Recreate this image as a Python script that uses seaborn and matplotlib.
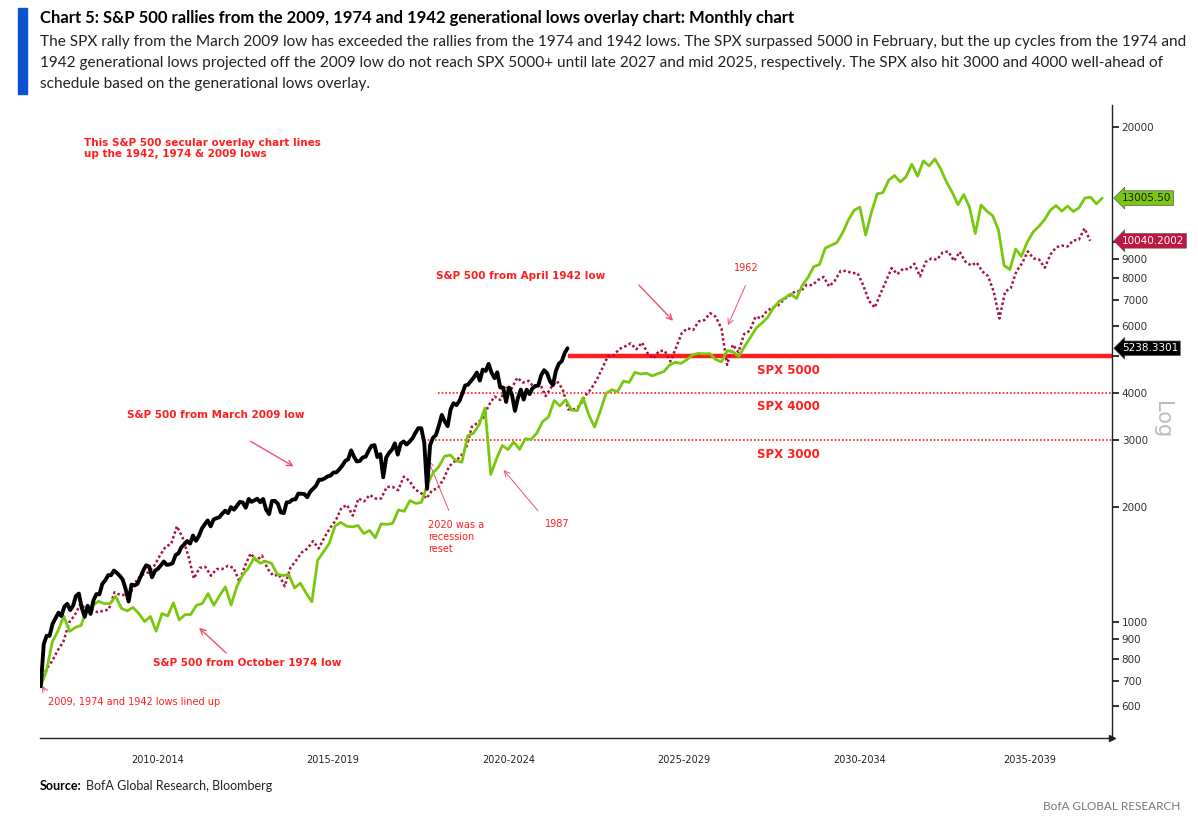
import pandas as pd
import matplotlib
matplotlib.use('Agg')
import matplotlib.pyplot as plt
import matplotlib.dates as mdates
import matplotlib.ticker as mticker
from matplotlib.patches import Rectangle
import seaborn as sns

# --- DATA (levels) ---
# S&P 500 from the March 2009 low, monthly
spx_2009 = [677, 873, 919, 919, 987, 1021, 1057, 1036, 1096, 1115,
            1074, 1104, 1169, 1187, 1089, 1031, 1102, 1049, 1141, 1183, 1181, 1258,
            1286, 1327, 1326, 1364, 1345, 1321, 1292, 1219, 1131, 1253, 1247, 1258,
            1312, 1366, 1408, 1398, 1310, 1362, 1379, 1407, 1441, 1412, 1416, 1426,
            1498, 1515, 1569, 1598, 1631, 1606, 1686, 1633, 1682, 1757, 1806, 1848,
            1783, 1859, 1872, 1884, 1924, 1960, 1931, 2003, 1972, 2018, 2068, 2059,
            1995, 2105, 2068, 2086, 2107, 2063, 2104, 1972, 1920, 2079, 2080, 2044,
            1940, 1932, 2060, 2065, 2097, 2099, 2174, 2171, 2168, 2126, 2199, 2239,
            2279, 2364, 2363, 2384, 2412, 2423, 2470, 2472, 2519, 2575, 2648, 2674,
            2824, 2714, 2641, 2648, 2705, 2718, 2816, 2902, 2914, 2712, 2760, 2400,
            2704, 2784, 2834, 2946, 2752, 2942, 2980, 2926, 2977, 3038, 3141, 3231,
            3226, 2954, 2237, 2912, 3044, 3100, 3271, 3500, 3363, 3270, 3622, 3756,
            3714, 3811, 3973, 4181, 4204, 4298, 4395, 4523, 4308, 4605, 4567, 4766,
            4516, 4374, 4530, 4132, 4132, 3785, 4130, 3955, 3586, 3872, 4080, 3840,
            4077, 3970, 4109, 4169, 4180, 4450, 4589, 4508, 4288, 4194, 4568, 4770,
            4846, 5096, 5238.3301]

# S&P 500 from the October 1974 low, projected off the 2009 low (bi-monthly)
spx_1974 = [677, 745,
            886, 948, 1034, 944, 967, 979,
            1083, 1103, 1133, 1117, 1117, 1167,
            1084, 1069, 1091, 1051, 1002, 1033,
            945, 1051, 1037, 1122, 1012, 1044,
            1046, 1106, 1117, 1187, 1106, 1172,
            1235, 1108, 1240, 1329, 1385, 1475,
            1426, 1442, 1425, 1334, 1324, 1331,
            1228, 1264, 1190, 1129, 1452, 1527,
            1608, 1785, 1826, 1785, 1777, 1791,
            1706, 1739, 1664, 1810, 1804, 1816,
            1968, 1953, 2084, 2048, 2061, 2295,
            2464, 2558, 2724, 2746, 2650, 2630,
            3086, 3132, 3301, 3650, 2440, 2683,
            2908, 2838, 2970, 2840, 3030, 3016,
            3137, 3362, 3453, 3817, 3696, 3838,
            3604, 3592, 3888, 3503, 3250, 3586,
            3987, 4076, 4031, 4294, 4262, 4530,
            4482, 4507, 4432, 4496, 4547, 4732,
            4815, 4780, 4892, 5035, 5080, 5066,
            5073, 4897, 4825, 5164, 5130, 4988,
            5293, 5590, 5916, 6102, 6315, 6689,
            6955, 7105, 7283, 7081, 7660, 8044,
            8588, 8702, 9612, 9768, 9933, 10540,
            11390, 12080, 12310, 10400, 11930, 13350,
            13450, 14500, 14910, 14340, 14800, 15960,
            14840, 16290, 15800, 16480, 15520, 14340,
            13470, 12490, 13290, 12310, 10490, 12470,
            12020, 11700, 10750, 8650, 8440, 9555,
            9135, 9958, 10580, 10950, 11410, 12080,
            12430, 12020, 12390, 11990, 12270, 13010,
            13070, 12560, 13005.50]

# S&P 500 from the April 1942 low, projected off the 2009 low (bi-monthly)
spx_1942 = [677, 752, 788, 842, 888,
            996, 1042, 1114, 1078, 1078, 1060,
            1069, 1078, 1196, 1177, 1177, 1205,
            1295, 1331, 1350, 1404, 1494, 1576,
            1603, 1784, 1666, 1494, 1300, 1386,
            1395, 1322, 1377, 1377, 1404, 1386,
            1277, 1404, 1513, 1449, 1494, 1377,
            1322, 1331, 1240, 1386, 1449, 1522,
            1558, 1630, 1560, 1666, 1766, 1848,
            1993, 2029, 1902, 2110, 2074, 2156,
            2110, 2110, 2264, 2264, 2219, 2409,
            2346, 2228, 2183, 2110, 2219, 2246,
            2373, 2563, 2645, 2717, 2871, 3259,
            3333, 3442, 3713, 3913, 3831, 4121,
            4103, 4384, 4257, 4302, 4130, 4230,
            3922, 4139, 4293, 4094, 3620, 3623,
            3695, 3931, 4094, 4329, 4646, 5000,
            5018, 5217, 5298, 5398, 5208, 5425,
            5081, 4927, 5153, 5162, 4837, 5262,
            5742, 5914, 5851, 6168, 6213, 6480,
            6336, 5905, 4739, 5353, 5117, 5715,
            5824, 6340, 6286, 6566, 6702, 6793,
            7046, 7197, 7400, 7409, 7689, 7676,
            7916, 8070, 7617, 7898, 8369, 8369,
            8260, 8251, 7671, 6983, 6700, 7273,
            7861, 8514, 8206, 8477, 8450, 8740,
            8097, 8840, 9021, 8957, 9365, 9410,
            8885, 9392, 8849, 8649, 8803, 8341,
            8106, 7381, 6276, 7381, 7544, 8350,
            8767, 9419, 9030, 8966, 8532, 9247,
            9655, 9755, 9700, 10060, 10110, 10830,
            10040.2002]

spx_levels = [5000, 4000, 3000]
level_labels = ['SPX 5000', 'SPX 4000', 'SPX 3000']
period_labels = ['2010-2014', '2015-2019', '2020-2024', '2025-2029', '2030-2034', '2035-2039']
ytick_vals = [600, 700, 800, 900, 1000, 2000, 3000, 4000, 5000, 6000, 7000, 8000, 9000, 10000, 20000]

# x positions: all three paths start at the March 2009 low
d2009 = pd.date_range('2009-03-09', periods=len(spx_2009), freq=pd.DateOffset(months=1))
d1974 = pd.date_range('2009-03-09', periods=len(spx_1974), freq='60D')
d1942 = pd.date_range('2009-03-09', periods=len(spx_1942), freq='59D')

df09 = pd.DataFrame({'date': d2009, 'spx': spx_2009})
df74 = pd.DataFrame({'date': d1974, 'spx': spx_1974})
df42 = pd.DataFrame({'date': d1942, 'spx': spx_1942})

# --- STYLE ---
sns.set_style('white')
plt.rcParams['font.family'] = ['DejaVu Sans']
HEAD = ['Lato', 'DejaVu Sans']

W, H = 1198, 824
fig = plt.figure(figsize=(W / 100, H / 100), dpi=100)
ax = fig.add_axes([40 / W, 1 - 738 / H, (1112 - 40) / W, (738 - 105) / H])

RED = '#ff1e1e'
ARROW = '#f2506a'
GREEN = '#79c80e'
CRIMSON = '#a8123c'

sns.lineplot(data=df42, x='date', y='spx', ax=ax, color=CRIMSON, lw=1.8,
             linestyle=(0, (1, 1)), zorder=3)
sns.lineplot(data=df74, x='date', y='spx', ax=ax, color=GREEN, lw=2.0, zorder=4)
sns.lineplot(data=df09, x='date', y='spx', ax=ax, color='black', lw=2.8, zorder=5)

ax.set_yscale('log')
ax.set_ylim(495, 22850)
xmin, xmax = pd.Timestamp('2009-03-01'), pd.Timestamp('2039-09-10')
ax.set_xlim(xmin, xmax)

# SPX 5000 / 4000 / 3000 reference lines
starts = [d2009[-1], pd.Timestamp('2020-07-01'), pd.Timestamp('2020-02-01')]
widths = [3.2, 1.2, 1.2]
styles = ['-', (0, (1, 1.2)), (0, (1, 1.2))]
for lvl, lab, x0, lw, ls in zip(spx_levels, level_labels, starts, widths, styles):
    ax.hlines(lvl, x0, xmax, color=RED, lw=lw, linestyle=ls, zorder=2)
    ax.text(pd.Timestamp('2029-08-01'), lvl * 0.955, lab, color=RED, fontsize=8.5,
            fontweight='bold', ha='left', va='top')

# axes cosmetics
for s in ['top', 'left']:
    ax.spines[s].set_visible(False)
for s in ['right', 'bottom']:
    ax.spines[s].set_color('#222222')
    ax.spines[s].set_linewidth(1)
ax.set_xlabel('')
ax.set_ylabel('')

ax.yaxis.tick_right()
ax.yaxis.set_major_locator(mticker.FixedLocator(ytick_vals))
ax.yaxis.set_minor_locator(mticker.NullLocator())
ax.set_yticklabels(['' if v in (5000, 10000) else str(v) for v in ytick_vals])
ax.tick_params(axis='y', which='major', length=5, width=1.3, direction='out',
               color='#222222', labelsize=7.5, labelcolor='#333333', pad=2)

ax.xaxis.set_major_locator(mdates.YearLocator(5))
ax.xaxis.set_minor_locator(mdates.YearLocator(1))
ax.xaxis.set_major_formatter(mticker.NullFormatter())
ax.tick_params(axis='x', which='major', length=22, width=0.8, color='#888888', direction='out')
ax.tick_params(axis='x', which='minor', length=3, width=0.8, color='#555555', direction='out')
ax.plot(1, 0, '>', color='#222222', ms=4, transform=ax.transAxes, clip_on=False)

bounds = [pd.Timestamp(f'{y}-01-01') for y in range(2010, 2040, 5)] + [xmax]
for lab, a, b in zip(period_labels, bounds[:-1], bounds[1:]):
    ax.text(a + (b - a) / 2, -0.035, lab, transform=ax.get_xaxis_transform(),
            ha='center', va='center', fontsize=7, color='#222222')

# last-value tags on the right axis
tags = [(spx_1974[-1], '13005.50', GREEN, '#1a1a1a'),
        (spx_1942[-1], '10040.2002', '#c01640', 'white'),
        (spx_2009[-1], '5238.3301', 'black', 'white')]
for val, txt, fc, tc in tags:
    ax.annotate(txt, xy=(1.0, val), xycoords=('axes fraction', 'data'),
                xytext=(7, 0), textcoords='offset points', ha='left', va='center',
                fontsize=7.5, color=tc, zorder=10, annotation_clip=False,
                bbox=dict(boxstyle='larrow,pad=0.22', fc=fc, ec='#555555', lw=0.5))

fig.text(1162 / W, 1 - 420 / H, 'Log', rotation=270, fontsize=15, color='#bbbbbb',
         ha='center', va='center')

# --- ANNOTATIONS ---
T = pd.Timestamp
bold = dict(color=RED, fontsize=7.5, fontweight='bold', va='center', ha='left')
ax.text(T('2010-06-01'), 18700, 'This S&P 500 secular overlay chart lines\nup the 1942, 1974 & 2009 lows',
        color=RED, fontsize=7.5, fontweight='bold', va='top', ha='left', linespacing=1.1)
ax.text(T('2020-06-15'), 8110, 'S&P 500 from April 1942 low', **bold)
ax.text(T('2011-08-20'), 3500, 'S&P 500 from March 2009 low', **bold)
ax.text(T('2012-05-15'), 780, 'S&P 500 from October 1974 low', **bold)

arr = dict(arrowstyle='->', color=ARROW, lw=1.0)
ax.annotate('', xy=(T('2027-04-01'), 6110), xytext=(T('2026-03-01'), 7780), arrowprops=arr)
ax.annotate('', xy=(T('2016-06-15'), 2540), xytext=(T('2015-02-01'), 3010), arrowprops=arr)
ax.annotate('', xy=(T('2013-08-20'), 976), xytext=(T('2014-07-10'), 819), arrowprops=arr)

thin = dict(arrowstyle='->', color=ARROW, lw=0.7)
ax.text(T('2029-04-15'), 8520, '1962', color=RED, fontsize=7, ha='center', va='center')
ax.annotate('', xy=(T('2028-09-20'), 5930), xytext=(T('2029-04-15'), 7780), arrowprops=thin)
ax.text(T('2020-03-15'), 1853, '2020 was a\nrecession\nreset', color=RED, fontsize=7,
        ha='left', va='top', linespacing=1.25)
ax.annotate('', xy=(T('2020-03-10'), 2699), xytext=(T('2020-11-01'), 1933), arrowprops=thin)
ax.text(T('2023-11-20'), 1810, '1987', color=RED, fontsize=7, ha='center', va='center')
ax.annotate('', xy=(T('2022-04-25'), 2540), xytext=(T('2023-05-25'), 1933), arrowprops=thin)
ax.text(T('2009-05-25'), 616, '2009, 1974 and 1942 lows lined up', color=RED, fontsize=7,
        ha='left', va='center')
ax.annotate('', xy=(T('2009-03-09'), 690), xytext=(T('2009-05-01'), 650), arrowprops=thin)

# --- TITLE BLOCK ---
renderer = fig.canvas.get_renderer()


def fit_width(txt, target_px):
    # scale the font so the text spans the same width as in the original
    w = txt.get_window_extent(renderer).width
    txt.set_fontsize(txt.get_fontsize() * target_px / w)


fig.patches.append(Rectangle((18 / W, 1 - 94 / H), 9 / W, 86 / H, transform=fig.transFigure,
                             color='#0b52d1'))
title = fig.text(40 / W, 1 - 18 / H,
                 'Chart 5: S&P 500 rallies from the 2009, 1974 and 1942 generational lows overlay chart: Monthly chart',
                 fontsize=12, fontweight='bold', family=HEAD, va='center', ha='left', color='black')
fit_width(title, 755)

sub = ['The SPX rally from the March 2009 low has exceeded the rallies from the 1974 and 1942 lows. The SPX surpassed 5000 in February, but the up cycles from the 1974 and',
       '1942 generational lows projected off the 2009 low do not reach SPX 5000+ until late 2027 and mid 2025, respectively. The SPX also hit 3000 and 4000 well-ahead of',
       'schedule based on the generational lows overlay.']
sub_txt = [fig.text(40 / W, 1 - (42 + 21 * i) / H, line, fontsize=12, family=HEAD,
                    va='center', ha='left', color='#222222') for i, line in enumerate(sub)]
fit_width(sub_txt[0], 1145)
for t in sub_txt[1:]:
    t.set_fontsize(sub_txt[0].get_fontsize())

src_b = fig.text(40 / W, 1 - 786 / H, 'Source:', fontsize=9, family=HEAD, fontweight='bold',
                 va='center', ha='left', color='black')
src_r = fig.text(80 / W, 1 - 786 / H, 'BofA Global Research, Bloomberg', fontsize=9,
                 family=HEAD, va='center', ha='left', color='#222222')
src_r.set_x((40 + src_b.get_window_extent(renderer).width + 4) / W)

fig.text(1180 / W, 1 - 806 / H, 'BofA GLOBAL RESEARCH', fontsize=8.5, family=HEAD,
         va='center', ha='right', color='#777777')

fig.savefig('out.png', dpi=100)
